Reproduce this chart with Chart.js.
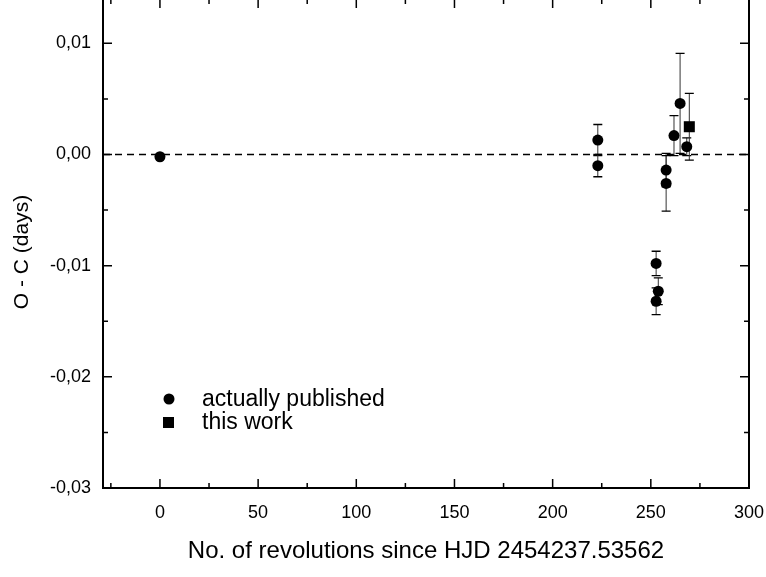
<!DOCTYPE html>
<html>
<head>
<meta charset="utf-8">
<script src="https://cdn.jsdelivr.net/npm/chart.js@4"></script>
<style>
  html, body { margin: 0; padding: 0; background: #fff; }
  #wrap { width: 766px; height: 577px; }
</style>
</head>
<body>
<div id="wrap"><canvas id="chartOC"></canvas></div>
<script>
// datos
const pubX   = [0, 223, 223, 252.7, 253.8, 252.7, 257.8, 257.8, 261.8, 264.9, 268.3];
const pubY   = [-0.0002, 0.0013, -0.001, -0.0098, -0.0123, -0.0132, -0.0014, -0.0026, 0.0017, 0.0046, 0.0007];
const pubErr = [0, 0.0014, 0.001, 0.0011, 0.0012, 0.0012, 0.0015, 0.0025, 0.0018, 0.0045, 0.0008];

const workX   = [269.6];
const workY   = [0.0025];
const workErr = [0.003];

const xTicks = [0, 50, 100, 150, 200, 250, 300];
const xMinor = [-25, 25, 75, 125, 175, 225, 275];
const yTicks = [-0.03, -0.02, -0.01, 0, 0.01];
const yMinor = [-0.025, -0.015, -0.005, 0.005];

const legendLabels = ['actually published', 'this work'];
const yTitle = 'O - C (days)';

const FONT = "'Liberation Sans', Arial, Helvetica, sans-serif";

function puntos(xs, ys, errs) {
  return xs.map((x, i) => ({ x: x, y: ys[i], err: errs[i] }));
}

function sinPadding(s) {
  s.paddingTop = 0; s.paddingBottom = 0;
  s.paddingLeft = 0; s.paddingRight = 0;
}

// barras de error, linea de cero, marco con ticks hacia dentro y leyenda
const extras = {
  id: 'extras',
  beforeDatasetsDraw(chart) {
    const ctx = chart.ctx;
    const xs = chart.scales.x, ys = chart.scales.y;
    const area = chart.chartArea;
    ctx.save();
    // linea de cero discontinua
    ctx.strokeStyle = '#000';
    ctx.lineWidth = 1.3;
    ctx.setLineDash([7, 5]);
    ctx.beginPath();
    ctx.moveTo(area.left, ys.getPixelForValue(0));
    ctx.lineTo(area.right, ys.getPixelForValue(0));
    ctx.stroke();
    ctx.setLineDash([]);
    // barras de error
    chart.data.datasets.forEach(ds => {
      ds.data.forEach(p => {
        if (!p.err) return;
        const px = xs.getPixelForValue(p.x);
        const top = ys.getPixelForValue(p.y + p.err);
        const bot = ys.getPixelForValue(p.y - p.err);
        ctx.strokeStyle = '#333';
        ctx.lineWidth = 1;
        ctx.beginPath();
        ctx.moveTo(px, top);
        ctx.lineTo(px, bot);
        ctx.stroke();
        ctx.strokeStyle = '#000';
        ctx.lineWidth = 1.3;
        ctx.beginPath();
        ctx.moveTo(px - 4.5, top); ctx.lineTo(px + 4.5, top);
        ctx.moveTo(px - 4.5, bot); ctx.lineTo(px + 4.5, bot);
        ctx.stroke();
      });
    });
    ctx.restore();
  },
  afterDraw(chart) {
    const ctx = chart.ctx;
    const xs = chart.scales.x, ys = chart.scales.y;
    const a = chart.chartArea;
    ctx.save();
    ctx.strokeStyle = '#000';
    ctx.lineWidth = 1.5;
    ctx.beginPath();
    const tickX = (v, len) => {
      const px = xs.getPixelForValue(v);
      ctx.moveTo(px, a.bottom); ctx.lineTo(px, a.bottom - len);
      ctx.moveTo(px, a.top); ctx.lineTo(px, a.top + len - 1);
    };
    const tickY = (v, len) => {
      const py = ys.getPixelForValue(v);
      ctx.moveTo(a.left, py); ctx.lineTo(a.left + len, py);
      ctx.moveTo(a.right, py); ctx.lineTo(a.right - len, py);
    };
    xTicks.forEach(v => tickX(v, 9));
    xMinor.forEach(v => tickX(v, 5));
    yTicks.forEach(v => tickY(v, 9));
    yMinor.forEach(v => tickY(v, 5));
    ctx.stroke();
    // marco (el borde superior queda fuera de la imagen)
    ctx.lineWidth = 2;
    ctx.beginPath();
    ctx.moveTo(a.left, a.top);
    ctx.lineTo(a.left, a.bottom);
    ctx.lineTo(a.right, a.bottom);
    ctx.lineTo(a.right, a.top);
    ctx.stroke();
    // titulo del eje y, un poco por debajo del centro como en el original
    ctx.fillStyle = '#000';
    ctx.font = '21px ' + FONT;
    ctx.textAlign = 'center';
    ctx.textBaseline = 'middle';
    ctx.translate(22, 252);
    ctx.rotate(-Math.PI / 2);
    ctx.fillText(yTitle, 0, 0);
    ctx.setTransform(1, 0, 0, 1, 0, 0);
    ctx.scale(chart.currentDevicePixelRatio, chart.currentDevicePixelRatio);
    // leyenda
    ctx.beginPath();
    ctx.arc(169, 399, 5.5, 0, Math.PI * 2);
    ctx.fill();
    ctx.fillRect(163, 417, 11, 11);
    ctx.font = '23px ' + FONT;
    ctx.textAlign = 'left';
    ctx.fillText(legendLabels[0], 202, 400);
    ctx.fillText(legendLabels[1], 202, 423);
    ctx.restore();
  }
};

const canvas = document.getElementById('chartOC');
window._chartOC = new Chart(canvas, {
  type: 'scatter',
  data: {
    datasets: [
      {
        label: legendLabels[0],
        data: puntos(pubX, pubY, pubErr),
        pointStyle: 'circle',
        pointRadius: 5.5,
        pointHoverRadius: 5.5,
        backgroundColor: '#000',
        borderColor: '#000',
        borderWidth: 0
      },
      {
        label: legendLabels[1],
        data: puntos(workX, workY, workErr),
        pointStyle: 'rect',
        pointRadius: 7.8,
        pointHoverRadius: 7.8,
        backgroundColor: '#000',
        borderColor: '#000',
        borderWidth: 0
      }
    ]
  },
  options: {
    responsive: true,
    maintainAspectRatio: false,
    animation: false,
    layout: { autoPadding: false, padding: { top: 0, right: 17, left: 0, bottom: 0 } },
    plugins: {
      legend: { display: false },
      tooltip: { enabled: false }
    },
    scales: {
      x: {
        type: 'linear',
        min: -29,
        max: 300,
        grid: { display: false, drawTicks: false },
        border: { display: false },
        afterBuildTicks: s => { s.ticks = xTicks.map(v => ({ value: v })); },
        afterFit: s => { s.height = 89; sinPadding(s); },
        ticks: {
          color: '#000',
          padding: 14,
          maxRotation: 0,
          font: { family: FONT, size: 18 },
          callback: v => String(v)
        },
        title: {
          display: true,
          text: 'No. of revolutions since HJD 2454237.53562',
          color: '#000',
          font: { family: FONT, size: 24 },
          padding: { top: 0, bottom: 11 }
        }
      },
      y: {
        type: 'linear',
        min: -0.03,
        max: 0.0139,
        grid: { display: false, drawTicks: false },
        border: { display: false },
        afterBuildTicks: s => { s.ticks = yTicks.map(v => ({ value: v })); },
        afterFit: s => { s.width = 103; sinPadding(s); },
        ticks: {
          color: '#000',
          padding: 12,
          font: { family: FONT, size: 18 },
          callback: v => v.toFixed(2).replace('.', ',')
        }
      }
    }
  },
  plugins: [extras]
});
</script>
</body>
</html>
